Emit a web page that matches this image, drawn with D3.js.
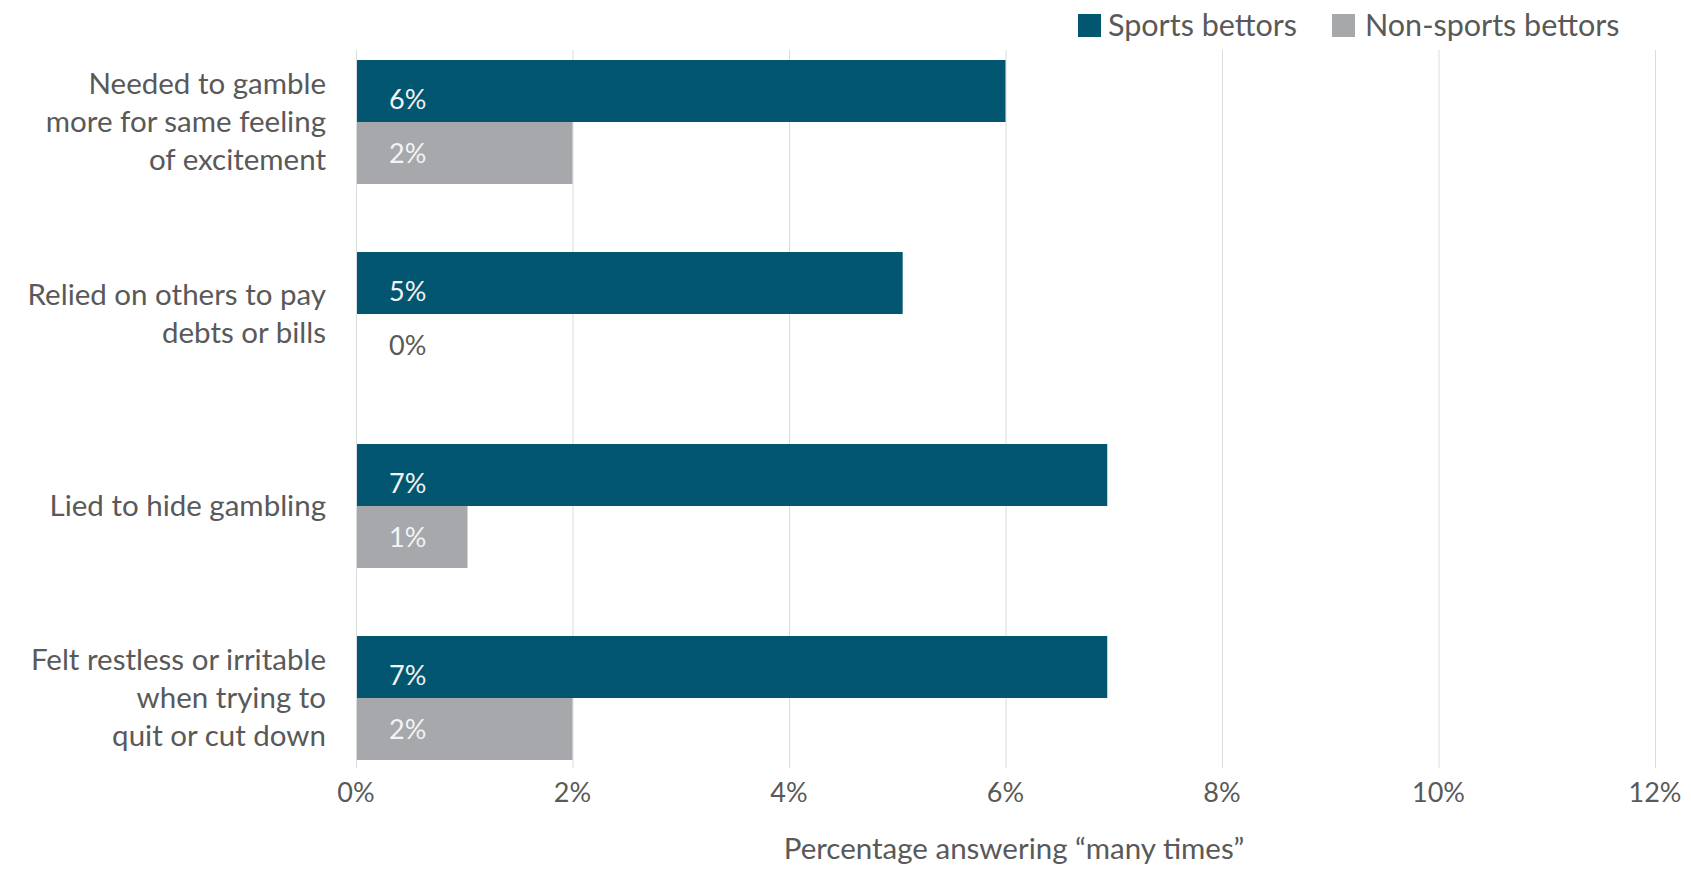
<!DOCTYPE html>
<html>
<head>
    <script type="text/javascript" src="https://cdn.jsdelivr.net/npm/d3@7/dist/d3.min.js" charset="utf-8"></script>
    <style>
        body { margin: 0; background: #fff; }
        svg text { font-family: Lato, "Open Sans", sans-serif; }
    </style>
</head>
<body>
    <div id="viz"></div>
    <script type="text/javascript">
    //Chart data
    var categories = [
        ["Needed to gamble", "more for same feeling", "of excitement"],
        ["Relied on others to pay", "debts or bills"],
        ["Lied to hide gambling"],
        ["Felt restless or irritable", "when trying to", "quit or cut down"]
    ];
    var sportsValues = [6.0, 5.05, 6.94, 6.94];
    var nonSportsValues = [2.0, 0.0, 1.03, 2.0];
    var seriesNames = ["Sports bettors", "Non-sports bettors"];
    var xTicks = [0, 2, 4, 6, 8, 10, 12];
    var axisTitle = "Percentage answering \u201cmany times\u201d";

    //Sizes and colours
    var width = 1691;
    var height = 872;
    var colors = ["#03566f", "#a7a8ab"];
    var textColor = "#595959";

    var svg = d3.select("#viz")
        .append("svg")
        .attr("width", width)
        .attr("height", height);

    var x = d3.scaleLinear().domain([0, 12]).range([356, 1655]);
    var y = d3.scaleBand()
        .domain(d3.range(categories.length))
        .range([50, 770])
        .paddingInner(0.354)
        .paddingOuter(0.052);
    var sub = d3.scaleBand().domain([0, 1]).range([0, y.bandwidth()]);

    //Gridlines
    svg.append("g")
        .selectAll("line")
        .data(xTicks)
        .enter()
        .append("line")
        .attr("x1", function(d) { return x(d) + 0.5 })
        .attr("x2", function(d) { return x(d) + 0.5 })
        .attr("y1", 50)
        .attr("y2", 768)
        .attr("stroke", "#dcdcdc")
        .attr("stroke-width", 1);

    //Tick labels
    svg.append("g")
        .selectAll("text")
        .data(xTicks)
        .enter()
        .append("text")
        .attr("x", function(d) { return x(d) })
        .attr("y", 793)
        .attr("dy", "0.35em")
        .attr("text-anchor", "middle")
        .attr("fill", textColor)
        .style("font-size", "27px")
        .text(function(d) { return d + "%" });

    //Axis title
    svg.append("text")
        .attr("x", 1014)
        .attr("y", 849)
        .attr("dy", "0.35em")
        .attr("text-anchor", "middle")
        .attr("fill", textColor)
        .style("font-size", "29.5px")
        .text(axisTitle);

    //Bars, one group per category
    var rows = categories.map(function(c, i) {
        return { label: c, values: [sportsValues[i], nonSportsValues[i]] };
    });

    var groups = svg.selectAll("g.row")
        .data(rows)
        .enter()
        .append("g")
        .attr("class", "row")
        .attr("transform", function(d, i) { return "translate(0," + y(i) + ")" });

    groups.selectAll("rect")
        .data(function(d) { return d.values })
        .enter()
        .append("rect")
        .attr("x", x(0) + 1)
        .attr("y", function(d, j) { return sub(j) })
        .attr("width", function(d) { return Math.max(0, x(d) - x(0) - 1) })
        .attr("height", sub.bandwidth())
        .attr("fill", function(d, j) { return colors[j] });

    //value labels sit a little low in the sports bar, as in the original
    var labelShift = [9, 1];
    groups.selectAll("text.value")
        .data(function(d) { return d.values })
        .enter()
        .append("text")
        .attr("class", "value")
        .attr("x", x(0) + 33)
        .attr("y", function(d, j) { return sub(j) + sub.bandwidth() / 2 + labelShift[j] })
        .attr("dy", "0.35em")
        .attr("fill", function(d) { return d > 0 ? "#f2f4f5" : textColor })
        .style("font-size", "27px")
        .text(function(d) { return Math.round(d) + "%" });

    //Category labels, right aligned and centred on the group
    var lineGap = 38;
    groups.append("text")
        .attr("text-anchor", "end")
        .attr("fill", textColor)
        .style("font-size", "29.5px")
        .selectAll("tspan")
        .data(function(d) { return d.label })
        .enter()
        .append("tspan")
        .attr("x", 326)
        .attr("y", function(d, k, nodes) {
            var n = nodes.length;
            return y.bandwidth() / 2 + (k - (n - 1) / 2) * lineGap;
        })
        .attr("dy", "0.35em")
        .text(function(d) { return d });

    //Legend
    var legendX = [1078, 1332];
    var legend = svg.selectAll("g.legend")
        .data(seriesNames)
        .enter()
        .append("g")
        .attr("class", "legend")
        .attr("transform", function(d, i) { return "translate(" + legendX[i] + ",0)" });

    legend.append("rect")
        .attr("x", 0)
        .attr("y", 14)
        .attr("width", 23)
        .attr("height", 23)
        .attr("fill", function(d, i) { return colors[i] });

    legend.append("text")
        .attr("x", function(d, i) { return i ? 33 : 30 })
        .attr("y", 25)
        .attr("dy", "0.35em")
        .attr("fill", textColor)
        .style("font-size", "30.5px")
        .text(function(d) { return d });
    </script>
</body>
</html>
